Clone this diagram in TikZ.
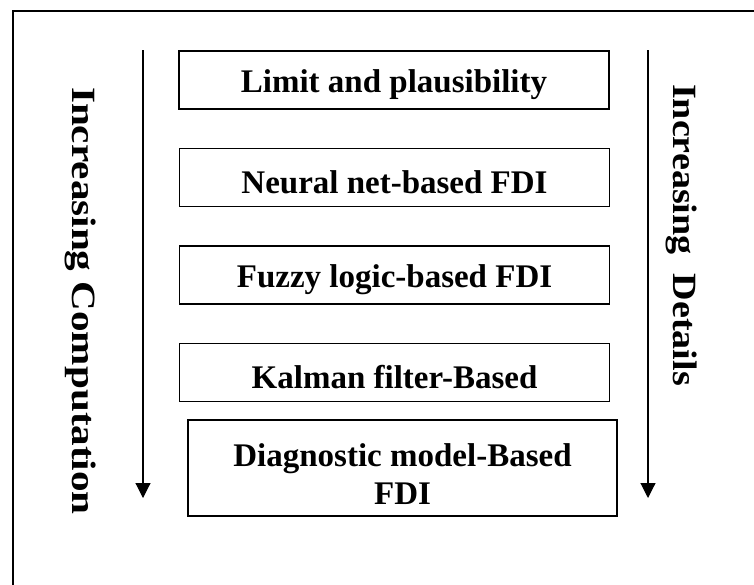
\documentclass[tikz,border=0pt]{standalone}
\usepackage{fontspec}
\setmainfont{Liberation Serif}
\usetikzlibrary{arrows.meta}
\begin{document}
\begin{tikzpicture}[x=1pt,y=-1pt,
  stage/.style={draw, line width=1.7pt, minimum width=430pt, minimum height=58pt,
    inner sep=0pt},
  stagetext/.style={inner sep=0pt, align=center, font=\fontsize{33}{38}\selectfont\bfseries},
  axislabel/.style={rotate=-90, inner sep=0pt, font=\fontsize{34}{40}\selectfont\bfseries},
  trend/.style={line width=1.1pt, -{Triangle[width=15pt,length=15pt]}}]
\useasboundingbox (0,0) rectangle (754,584);
\clip (0,0) rectangle (754,584);
% outer frame
\draw[line width=2pt] (13,11) rectangle (770,600);
% stage boxes
\node[stage] (limit) at (394,80) {};
\node[stage] (neural) at (394.5,177.5) {};
\node[stage] (fuzzy) at (394.5,275) {};
\node[stage] (kalman) at (394.5,372.5) {};
\node[stage, minimum width=429pt, minimum height=96pt] (diag) at (402.5,468) {};
% stage captions
\node[stagetext] (limitT) at ([yshift=-5pt]limit.center) {Limit and plausibility};
\node[stagetext] (neuralT) at ([yshift=-5pt]neural.center) {Neural net-based FDI};
\node[stagetext] (fuzzyT) at ([yshift=-5pt]fuzzy.center) {Fuzzy logic-based FDI};
\node[stagetext] (kalmanT) at ([yshift=-5pt]kalman.center) {Kalman filter-Based};
\node[stagetext] (diagT) at ([yshift=-6pt]diag.center) {Diagnostic model-Based\\FDI};
% trend arrows
\coordinate (ltop) at (143,50);
\coordinate (lend) at (143,498);
\coordinate (rtop) at (648,50);
\coordinate (rend) at (648,498);
\draw[trend] (ltop) -- (lend);
\draw[trend] (rtop) -- (rend);
% side labels
\node[axislabel] (comp) at (81,301) {\scalebox{1.21}[1]{Increasing Computation}};
\node[axislabel] (detail) at (682,235) {\scalebox{1.12}[1]{Increasing\ \ Details}};
\end{tikzpicture}
\end{document}
